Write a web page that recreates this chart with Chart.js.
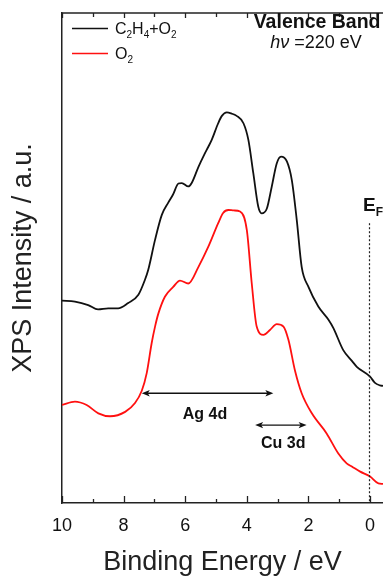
<!DOCTYPE html>
<html><head><meta charset="utf-8">
<script src="https://cdn.jsdelivr.net/npm/chart.js@4/dist/chart.umd.min.js"></script>
<style>html,body{margin:0;padding:0;background:#fff}#wrap{width:383px;height:578px;position:relative}</style>
</head><body><div id="wrap"><canvas id="c" width="383" height="578"></canvas></div>
<script>
// ---- data ----
const blackE = [10.00,9.58,9.15,8.83,8.50,8.18,7.85,7.52,7.31,7.20,6.98,6.76,6.56,6.40,6.22,6.11,5.90,5.79,5.57,5.39,5.25,5.14,4.93,4.81,4.65,4.51,4.33,4.11,3.95,3.79,3.63,3.52,3.35,3.19,3.03,2.89,2.70,2.54,2.38,2.22,2.00,1.68,1.35,1.19,0.87,0.59,0.43,0.00,-0.16,-0.32,-0.42];
const blackI = [41.3,41.1,40.4,39.5,39.7,39.7,40.8,42.5,45.5,47.6,53.7,58.8,61.2,62.9,65.2,65.3,64.6,65.3,68.6,71.0,72.7,74.1,77.5,79.0,79.7,79.5,79.0,77.5,74.1,67.3,60.5,59.1,60.1,64.6,69.3,70.7,69.7,65.9,57.8,48.2,44.1,40.1,37.4,35.7,31.2,29.0,27.8,25.8,24.5,24.0,23.9];
const redE = [10.00,9.58,9.20,8.82,8.44,7.95,7.63,7.41,7.25,7.09,6.98,6.87,6.66,6.39,6.17,5.90,5.57,5.25,4.93,4.77,4.60,4.42,4.22,4.00,3.84,3.68,3.46,3.25,3.03,2.81,2.65,2.44,2.22,1.89,1.41,1.03,0.76,0.58,0.32,0.00,-0.27,-0.42];
const redI = [20.0,20.7,20.0,18.3,17.7,18.6,20.4,22.9,26.5,32.6,36.0,38.7,42.1,44.1,45.4,44.8,48.2,52.3,57.1,59.2,59.8,59.7,59.5,55.7,44.8,36.0,34.3,35.3,36.5,36.0,33.3,27.1,22.4,18.3,14.2,10.1,8.1,7.4,6.4,5.4,4.0,3.9];
const majorTicks = [10,8,6,4,2,0];
const minorTicks = [9,7,5,3,1];
const seriesLabels = ['C2H4+O2','O2'];
const agRange = [7.41, 3.14], agLevel = 22.4;
const cuRange = [3.73, 2.06], cuLevel = 15.9;
const fermiE = 0;

const F = '"Liberation Sans", Arial, Helvetica, sans-serif';

function drawRich(ctx, x, y, segs, size, weight, align, style) {
  const base = (style||'') + ' ' + (weight||'normal') + ' ' + size + 'px ' + F;
  const sub = (weight||'normal') + ' ' + Math.round(size*0.62) + 'px ' + F;
  let w = 0;
  segs.forEach(s => { ctx.font = s.sub ? sub : (s.font || base); w += ctx.measureText(s.t).width; });
  let cx = align === 'right' ? x - w : (align === 'center' ? x - w/2 : x);
  ctx.textBaseline = 'alphabetic'; ctx.textAlign = 'left';
  segs.forEach(s => {
    ctx.font = s.sub ? sub : (s.font || base);
    ctx.fillText(s.t, cx, s.sub ? y + size*0.28 : y);
    cx += ctx.measureText(s.t).width;
  });
}

function arrow(ctx, x1, x2, y) {
  ctx.save();
  ctx.strokeStyle = '#111'; ctx.fillStyle = '#111'; ctx.lineWidth = 1.3;
  ctx.beginPath(); ctx.moveTo(x1 + 4, y); ctx.lineTo(x2 - 4, y); ctx.stroke();
  const h = 8, hw = 3.2;
  ctx.beginPath(); ctx.moveTo(x1, y); ctx.lineTo(x1 + h, y - hw); ctx.lineTo(x1 + h - 2, y); ctx.lineTo(x1 + h, y + hw); ctx.closePath(); ctx.fill();
  ctx.beginPath(); ctx.moveTo(x2, y); ctx.lineTo(x2 - h, y - hw); ctx.lineTo(x2 - h + 2, y); ctx.lineTo(x2 - h, y + hw); ctx.closePath(); ctx.fill();
  ctx.restore();
}

const deco = {
  id: 'deco',
  afterDraw(chart) {
    const {ctx, chartArea: a, scales: {x, y}} = chart;
    ctx.save();
    // top frame
    ctx.strokeStyle = '#222'; ctx.lineWidth = 1.5;
    ctx.beginPath(); ctx.moveTo(a.left, a.top); ctx.lineTo(a.right, a.top); ctx.stroke();
    // ticks
    ctx.lineWidth = 1.3;
    majorTicks.forEach(v => {
      const px = Math.round(x.getPixelForValue(v)) + 0.5;
      ctx.beginPath(); ctx.moveTo(px, a.bottom); ctx.lineTo(px, a.bottom - 7); ctx.stroke();
      ctx.beginPath(); ctx.moveTo(px, a.top); ctx.lineTo(px, a.top + 5); ctx.stroke();
    });
    minorTicks.forEach(v => {
      const px = Math.round(x.getPixelForValue(v)) + 0.5;
      ctx.beginPath(); ctx.moveTo(px, a.bottom); ctx.lineTo(px, a.bottom - 4); ctx.stroke();
      ctx.beginPath(); ctx.moveTo(px, a.top); ctx.lineTo(px, a.top + 4); ctx.stroke();
    });
    // Fermi level
    const fx = Math.round(x.getPixelForValue(fermiE)) - 0.5;
    ctx.lineWidth = 1.2; ctx.strokeStyle = '#222'; ctx.setLineDash([2, 2]);
    ctx.beginPath(); ctx.moveTo(fx, y.getPixelForValue(57.1)); ctx.lineTo(fx, a.bottom); ctx.stroke();
    ctx.setLineDash([]);
    ctx.fillStyle = '#111';
    drawRich(ctx, x.getPixelForValue(0.23), y.getPixelForValue(56.5) - 15, [{t:'E'},{t:'F',sub:true}], 19, 'bold', 'left');
    // arrows
    arrow(ctx, x.getPixelForValue(agRange[0]), x.getPixelForValue(agRange[1]), y.getPixelForValue(agLevel));
    arrow(ctx, x.getPixelForValue(cuRange[0]), x.getPixelForValue(cuRange[1]), y.getPixelForValue(cuLevel));
    ctx.font = 'bold 16px ' + F; ctx.textAlign = 'center'; ctx.textBaseline = 'middle';
    ctx.fillText('Ag 4d', x.getPixelForValue(5.36), y.getPixelForValue(18.0));
    ctx.fillText('Cu 3d', x.getPixelForValue(2.82), y.getPixelForValue(12.2));
    // title block
    ctx.font = 'bold 19.5px ' + F; ctx.textAlign = 'right'; ctx.textBaseline = 'alphabetic';
    ctx.fillText('Valence Band', 380.5, 28);
    drawRich(ctx, 316, 48, [{t:'hν', font:'italic 18px ' + F},{t:' =220 eV'}], 18, 'normal', 'center');
    // legend
    const ds = chart.data.datasets;
    ctx.lineWidth = 1.6;
    ctx.strokeStyle = ds[0].borderColor;
    ctx.beginPath(); ctx.moveTo(72, 28.5); ctx.lineTo(108, 28.5); ctx.stroke();
    ctx.strokeStyle = ds[1].borderColor;
    ctx.beginPath(); ctx.moveTo(72, 53.5); ctx.lineTo(108, 53.5); ctx.stroke();
    ctx.fillStyle = '#111';
    drawRich(ctx, 115, 34, [{t:'C'},{t:'2',sub:true},{t:'H'},{t:'4',sub:true},{t:'+O'},{t:'2',sub:true}], 16, 'normal', 'left');
    drawRich(ctx, 115, 59, [{t:'O'},{t:'2',sub:true}], 16, 'normal', 'left');
    ctx.restore();
  }
};

new Chart(document.getElementById('c').getContext('2d'), {
  type: 'line',
  data: {
    datasets: [
      {label: seriesLabels[0], data: blackE.map((e, i) => ({x: e, y: blackI[i]})), borderColor: '#111111', borderWidth: 1.8, pointRadius: 0, cubicInterpolationMode: 'monotone', fill: false},
      {label: seriesLabels[1], data: redE.map((e, i) => ({x: e, y: redI[i]})), borderColor: '#ff1010', borderWidth: 1.8, pointRadius: 0, cubicInterpolationMode: 'monotone', fill: false}
    ]
  },
  options: {
    responsive: false, animation: false, devicePixelRatio: 1,
    layout: {padding: {top: 13, right: 0, left: 0, bottom: 0}},
    plugins: {legend: {display: false}, tooltip: {enabled: false}},
    scales: {
      x: {
        type: 'linear', reverse: true, min: -0.42, max: 10,
        afterBuildTicks: s => { s.ticks = majorTicks.map(v => ({value: v})); },
        afterFit: s => { s.height = 75; s.paddingRight = 0; s.paddingLeft = 0; },
        grid: {display: false, drawTicks: false},
        border: {display: true, color: '#222', width: 1.5},
        ticks: {font: {size: 18, family: F}, color: '#111', padding: 12, maxRotation: 0, autoSkip: false, callback: v => String(v)},
        title: {display: true, text: 'Binding Energy / eV', font: {size: 27, family: F}, color: '#222', padding: {top: 0, bottom: -1}}
      },
      y: {
        min: 0, max: 100,
        grid: {display: false, drawTicks: false},
        border: {display: true, color: '#222', width: 1.5},
        ticks: {display: false},
        title: {display: true, text: 'XPS Intensity / a.u.', font: {size: 27, family: F}, color: '#222', padding: {top: 7, bottom: 22.6}}
      }
    }
  },
  plugins: [deco]
});
</script></body></html>
